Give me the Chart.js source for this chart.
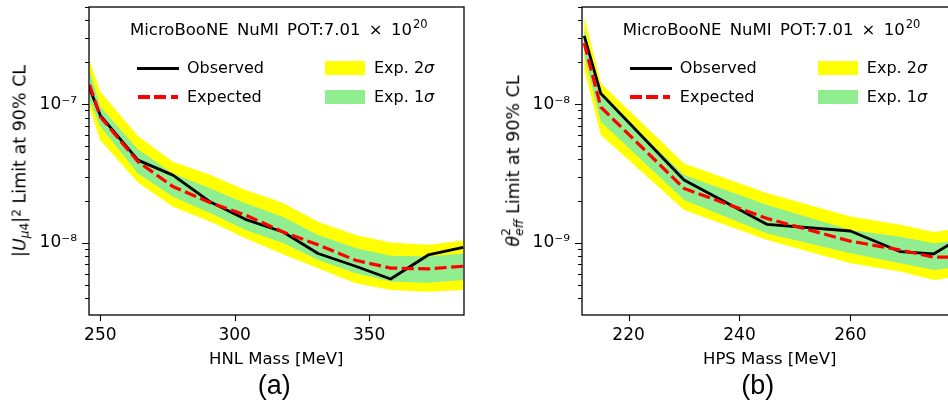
<!DOCTYPE html>
<html><head><meta charset="utf-8">
<script src="https://cdn.jsdelivr.net/npm/chart.js@4/dist/chart.umd.min.js"></script>
<style>
html,body{margin:0;padding:0;background:#fff;}
body{width:948px;height:407px;overflow:hidden;position:relative;font-family:"DejaVu Sans",sans-serif;color:#000;}
.box{position:absolute;top:0;height:407px;}
.t{position:absolute;white-space:nowrap;font-size:16px;line-height:20px;}
.an{position:absolute;white-space:nowrap;font-size:16.5px;line-height:20px;word-spacing:3px;}
.an .p{font-size:11.5px;position:relative;top:-6.8px;margin-left:1px;}
.sw{position:absolute;}
.yl{position:absolute;white-space:nowrap;font-size:17.5px;line-height:21px;transform:translate(-50%,-50%) rotate(-90deg);}
.xl{position:absolute;white-space:nowrap;font-size:16.5px;line-height:20px;transform:translateX(-50%);}
.cap{position:absolute;white-space:nowrap;font-family:"Liberation Sans",Arial,sans-serif;font-size:27px;line-height:32px;transform:translateX(-50%);}
.sub{font-size:0.7em;position:relative;top:0.28em;}
.sup{font-size:0.7em;position:relative;top:-0.45em;}
.ss{display:inline-block;vertical-align:middle;font-size:0.7em;line-height:1.05;position:relative;top:-0.05em;}
.ss span{display:block;}
</style></head><body>

<div class="box" style="left:0;width:480px"><canvas id="cA" width="480" height="407" style="width:480px;height:407px"></canvas></div>
<div class="box" style="left:480px;width:490px"><canvas id="cB" width="490" height="407" style="width:490px;height:407px"></canvas></div>

<!-- panel (a) texts -->
<div class="an" style="left:130px;top:20px">MicroBooNE NuMI POT:7.01 × 10<span class="p">20</span></div>
<div class="sw" style="left:137px;top:66.5px;width:42px;height:3px;background:#000"></div>
<div class="t" style="left:187px;top:58px">Observed</div>
<div class="sw" style="left:137.5px;top:95.3px;width:40px;height:3.3px;background:repeating-linear-gradient(to right,#ff0000 0 12px,rgba(0,0,0,0) 12px 16.5px)"></div>
<div class="t" style="left:187px;top:86.5px">Expected</div>
<div class="sw" style="left:325px;top:61px;width:40px;height:14px;background:#ffff00"></div>
<div class="t" style="left:374px;top:58px">Exp. 2<i>σ</i></div>
<div class="sw" style="left:325px;top:90px;width:40px;height:14px;background:#90ee90"></div>
<div class="t" style="left:374px;top:86.5px">Exp. 1<i>σ</i></div>
<div class="yl" style="left:21px;top:161px">|<i>U</i><span class="sub"><i>μ</i>4</span>|<span class="sup">2</span> Limit at 90% CL</div>
<div class="xl" style="left:276.3px;top:348.6px">HNL Mass [MeV]</div>
<div class="cap" style="left:274.2px;top:369.2px">(a)</div>

<!-- panel (b) texts -->
<div class="an" style="left:622.8px;top:20px">MicroBooNE NuMI POT:7.01 × 10<span class="p">20</span></div>
<div class="sw" style="left:629.8px;top:66.5px;width:42px;height:3px;background:#000"></div>
<div class="t" style="left:679.8px;top:58px">Observed</div>
<div class="sw" style="left:630.3px;top:95.3px;width:40px;height:3.3px;background:repeating-linear-gradient(to right,#ff0000 0 12px,rgba(0,0,0,0) 12px 16.5px)"></div>
<div class="t" style="left:679.8px;top:86.5px">Expected</div>
<div class="sw" style="left:817.8px;top:61px;width:40px;height:14px;background:#ffff00"></div>
<div class="t" style="left:866.8px;top:58px">Exp. 2<i>σ</i></div>
<div class="sw" style="left:817.8px;top:90px;width:40px;height:14px;background:#90ee90"></div>
<div class="t" style="left:866.8px;top:86.5px">Exp. 1<i>σ</i></div>
<div class="yl" style="left:514px;top:161px"><i>θ</i><span class="ss"><span>2</span><span><i>eff</i></span></span> Limit at 90% CL</div>
<div class="xl" style="left:769.7px;top:348.6px">HPS Mass [MeV]</div>
<div class="cap" style="left:757.8px;top:369.2px">(b)</div>

<script>
// ---------- data: panel (a) HNL ----------
const hnlMass = [246, 250, 264, 277, 291, 304, 318, 331, 345, 358, 372, 385];
const hnlObserved = [1.30e-7, 8.3e-8, 3.95e-8, 3.08e-8, 1.97e-8, 1.48e-8, 1.2e-8, 8.4e-9, 6.8e-9, 5.5e-9, 8.2e-9, 9.3e-9];
const hnlExpected = [1.38e-7, 8.1e-8, 3.85e-8, 2.55e-8, 1.95e-8, 1.59e-8, 1.2e-8, 9.7e-9, 7.5e-9, 6.6e-9, 6.5e-9, 6.8e-9];
const hnl2SigUp = [2.07e-7, 1.23e-7, 5.9e-8, 3.85e-8, 3.08e-8, 2.41e-8, 1.94e-8, 1.42e-8, 1.14e-8, 1.01e-8, 9.7e-9, 1.04e-8];
const hnl1SigUp = [1.76e-7, 9.6e-8, 4.72e-8, 3.17e-8, 2.47e-8, 1.93e-8, 1.54e-8, 1.14e-8, 9.2e-9, 8.1e-9, 8.0e-9, 8.4e-9];
const hnl1SigDn = [1.07e-7, 6.9e-8, 3.17e-8, 2.15e-8, 1.64e-8, 1.24e-8, 1.0e-8, 7.55e-9, 6.05e-9, 5.27e-9, 5.18e-9, 5.42e-9];
const hnl2SigDn = [9.5e-8, 5.5e-8, 2.72e-8, 1.82e-8, 1.42e-8, 1.08e-8, 8.3e-9, 6.58e-9, 5.13e-9, 4.59e-9, 4.46e-9, 4.59e-9];
const hnlXTicks = [250, 300, 350];

// ---------- data: panel (b) HPS ----------
const hpsMass = [212, 215, 230, 245, 260, 269, 275, 279];
const hpsObserved = [3.1e-8, 1.19e-8, 2.84e-9, 1.36e-9, 1.22e-9, 8.65e-10, 8.34e-10, 1.04e-9];
const hpsExpected = [2.75e-8, 9.5e-9, 2.47e-9, 1.5e-9, 1.03e-9, 8.9e-10, 7.9e-10, 7.9e-10];
const hps2SigUp = [4.3e-8, 1.41e-8, 3.74e-9, 2.28e-9, 1.55e-9, 1.35e-9, 1.2e-9, 1.26e-9];
const hps1SigUp = [3.5e-8, 1.16e-8, 3.08e-9, 1.88e-9, 1.24e-9, 1.11e-9, 9.95e-10, 1.03e-9];
const hps1SigDn = [2.25e-8, 7.46e-9, 2.04e-9, 1.17e-9, 8.43e-10, 7.15e-10, 6.4e-10, 6.7e-10];
const hps2SigDn = [1.8e-8, 6.0e-9, 1.73e-9, 1.05e-9, 7.15e-10, 6.22e-10, 5.42e-10, 5.7e-10];
const hpsXTicks = [220, 240, 260];

// ---------- helpers ----------
const SUP = {'-':'⁻','0':'⁰','1':'¹','2':'²','3':'³','4':'⁴','5':'⁵','6':'⁶','7':'⁷','8':'⁸','9':'⁹'};
function isPow10(v){const l=Math.log10(v);return Math.abs(l-Math.round(l))<1e-6;}
function powLabel(v){const e=Math.round(Math.log10(v));return '10'+String(e).split('').map(c=>SUP[c]).join('');}
function logTicks(min,max){
  const out=[];
  for(let e=Math.floor(Math.log10(min));e<=Math.ceil(Math.log10(max));e++){
    for(let k=1;k<=9;k++){const v=k*Math.pow(10,e); if(v>=min*0.9999&&v<=max*1.0001) out.push(v);}
  }
  return out;
}

const framePlugin = {
  id:'frame',
  afterDatasetsDraw(chart){
    const {ctx, chartArea, scales} = chart;
    const {left, top, right, bottom} = chartArea;
    const x = scales.x, y = scales.y;
    ctx.save();
    ctx.strokeStyle = '#000';
    ctx.lineWidth = 1.1;
    ctx.beginPath();
    y.ticks.forEach(t=>{
      const p = Math.round(y.getPixelForValue(t.value)) + 0.5;
      const len = isPow10(t.value) ? 7 : 4;
      ctx.moveTo(left - len, p); ctx.lineTo(left, p);
    });
    x.ticks.forEach(t=>{
      const p = Math.round(x.getPixelForValue(t.value)) + 0.5;
      ctx.moveTo(p, bottom); ctx.lineTo(p, bottom + 6);
    });
    ctx.stroke();
    ctx.lineWidth = 1.3;
    ctx.strokeRect(left, top, right - left, bottom - top);
    ctx.restore();
  }
};

function makeChart(id, c){
  const pts = arr => c.mass.map((m,i)=>({x:m, y:arr[i]}));
  const none = 'rgba(0,0,0,0)';
  const tickFont = {family:'DejaVu Sans', size:17};
  return new Chart(document.getElementById(id), {
    type:'line',
    data:{datasets:[
      {label:'Expected', data:pts(c.exp), borderColor:'#ff0000', borderWidth:3.2, borderDash:[12,4.5], borderCapStyle:'butt', fill:false, order:0},
      {label:'Observed', data:pts(c.obs), borderColor:'#000000', borderWidth:2.8, borderJoinStyle:'round', fill:false, order:1},
      {label:'Exp. 1σ', data:pts(c.up1), borderColor:none, borderWidth:0, backgroundColor:'#90ee90', fill:'+1', order:2},
      {label:'Exp. 1σ low', data:pts(c.dn1), borderColor:none, borderWidth:0, fill:false, order:3},
      {label:'Exp. 2σ', data:pts(c.up2), borderColor:none, borderWidth:0, backgroundColor:'#ffff00', fill:'+1', order:4},
      {label:'Exp. 2σ low', data:pts(c.dn2), borderColor:none, borderWidth:0, fill:false, order:5}
    ]},
    options:{
      responsive:false, animation:false, devicePixelRatio:1,
      layout:{padding:{left:0, top:7, right:c.padRight, bottom:0}},
      elements:{point:{radius:0, hoverRadius:0}, line:{tension:0}},
      plugins:{legend:{display:false}, tooltip:{enabled:false}, title:{display:false}},
      scales:{
        x:{type:'linear', min:c.xmin, max:c.xmax,
          afterBuildTicks:s=>{ s.ticks = c.xticks.map(v=>({value:v})); },
          afterFit:s=>{ s.height = 92; s.paddingLeft = 0; s.paddingRight = 0; },
          grid:{display:true, drawOnChartArea:false, drawTicks:true, tickLength:6, tickColor:none},
          border:{display:false},
          ticks:{autoSkip:false, maxRotation:0, minRotation:0, padding:4, color:'#000', font:tickFont, callback:v=>String(v)}
        },
        y:{type:'logarithmic', min:c.ymin, max:c.ymax,
          afterBuildTicks:s=>{ s.ticks = logTicks(c.ymin, c.ymax).map(v=>({value:v})); },
          afterFit:s=>{ s.width = c.areaLeft; s.paddingTop = 0; s.paddingBottom = 0; },
          grid:{display:true, drawOnChartArea:false, drawTicks:true, tickLength:7, tickColor:none},
          border:{display:false},
          ticks:{autoSkip:false, padding:5, color:'#000', font:tickFont, callback:v=>isPow10(v)?powLabel(v):''}
        }
      }
    },
    plugins:[framePlugin]
  });
}

makeChart('cA', {mass:hnlMass, obs:hnlObserved, exp:hnlExpected, up2:hnl2SigUp, dn2:hnl2SigDn, up1:hnl1SigUp, dn1:hnl1SigDn,
  xmin:245.8, xmax:385.3, ymin:3.03e-9, ymax:5.0e-7, xticks:hnlXTicks, areaLeft:89, padRight:16});
makeChart('cB', {mass:hpsMass, obs:hpsObserved, exp:hpsExpected, up2:hps2SigUp, dn2:hps2SigDn, up1:hps1SigUp, dn1:hps1SigDn,
  xmin:211.6, xmax:279.4, ymin:3.03e-10, ymax:5.0e-8, xticks:hpsXTicks, areaLeft:102, padRight:12});
</script>
</body></html>
